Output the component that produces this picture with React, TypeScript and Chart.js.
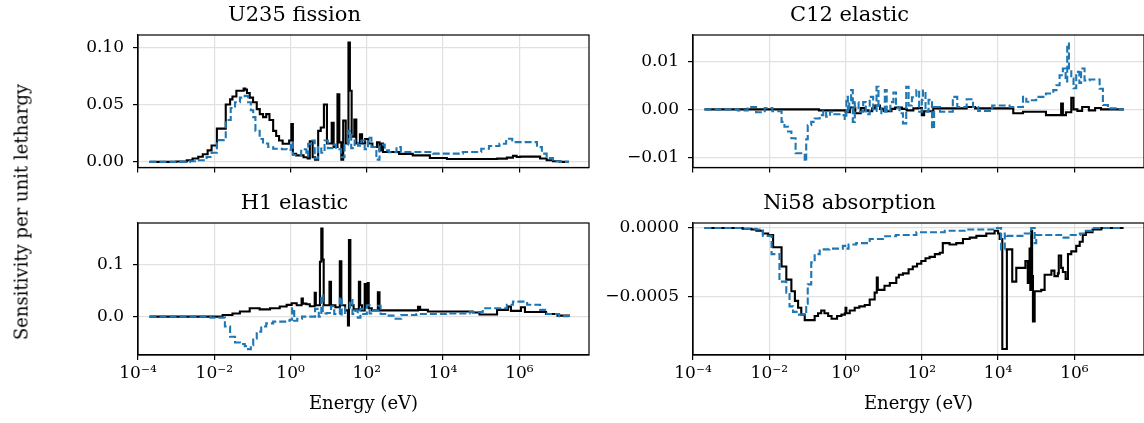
import React, { useEffect, useRef } from "react";
import { Chart, registerables } from "chart.js";

Chart.register(...registerables);

const FONT_FAMILY = "'DejaVu Serif', 'Liberation Serif', serif";

// ---------- shared axis data ----------
const xTickValues = [1e-4, 1e-2, 1, 1e2, 1e4, 1e6];
const xTickLabels = ["10\u207B\u2074", "10\u207B\u00B2", "10\u2070", "10\u00B2", "10\u2074", "10\u2076"];
const xMin = 1e-4;
const xMax = 6.7e7;

// ---------- U235 fission: [energy (eV), sensitivity per unit lethargy] ----------
const u235FissionBlack: [number, number][] = [
  [2e-4, 0], [1e-3, 0.0003], [1.9e-3, 0.0014], [2.7e-3, 0.003], [3.8e-3, 0.0045],
  [5e-3, 0.0066], [6.7e-3, 0.01], [8.5e-3, 0.0143], [1.17e-2, 0.029], [2e-2, 0.05],
  [2.6e-2, 0.0545], [3e-2, 0.057], [3.8e-2, 0.062], [5.9e-2, 0.064], [6.5e-2, 0.063],
  [7.2e-2, 0.06], [8.5e-2, 0.056], [0.104, 0.052], [0.13, 0.046], [0.156, 0.0416],
  [0.19, 0.039], [0.23, 0.0416], [0.28, 0.0365], [0.35, 0.027], [0.42, 0.0225],
  [0.5, 0.0186], [0.62, 0.0158], [0.8, 0.0158], [0.92, 0.0186], [1.05, 0.033],
  [1.15, 0.007], [1.4, 0.0057], [2.2, 0.004], [2.8, 0.003], [3.2, 0.018],
  [3.8, 0.004], [4.4, 0.002], [5.3, 0.027], [6.2, 0.03], [7.5, 0.05],
  [9.0, 0.016], [12.0, 0.034], [13.5, 0.013], [17.0, 0.059], [19.0, 0.017],
  [21.5, 0.002], [24.0, 0.036], [28.0, 0.016], [33.0, 0.104], [36.0, 0.062],
  [40.0, 0.022], [47.0, 0.037], [53.0, 0.016], [66.0, 0.024], [75.0, 0.016],
  [90.0, 0.02], [110, 0.016], [140, 0.013], [185, 0.017], [215, 0.01],
  [245, 0.016], [265, 0.0086], [700, 0.007], [1600, 0.0057], [4500, 0.0034],
  [1.26e4, 0.0025], [2.6e5, 0.0028], [4.7e5, 0.0037], [6.8e5, 0.0052], [8.5e5, 0.0043],
  [1.05e6, 0.0046], [3.5e6, 0.003], [5.2e6, 0.0014], [7.6e6, 0.0006], [1.17e7, 0],
  [2e7, 0],
];
const u235FissionBlue: [number, number][] = [
  [2e-4, 0], [2.3e-3, 0.0005], [3.4e-3, 0.0014], [6.3e-3, 0.0043], [8.5e-3, 0.008],
  [1.17e-2, 0.019], [2e-2, 0.0365], [2.7e-2, 0.047], [3.5e-2, 0.052], [4.7e-2, 0.056],
  [6.3e-2, 0.0575], [7.7e-2, 0.052], [9.1e-2, 0.045], [0.105, 0.039], [0.12, 0.027],
  [0.155, 0.02], [0.19, 0.016], [0.26, 0.013], [0.35, 0.0115], [0.6, 0.011],
  [0.8, 0.0105], [1.02, 0.017], [1.15, 0.006], [1.9, 0.011], [2.6, 0.005],
  [2.9, 0.0157], [3.5, 0.0186], [4.3, 0.003], [5.2, 0.013], [6.4, 0.008],
  [7.8, 0.0186], [9.5, 0.012], [12.5, 0.015], [15.5, 0.011], [21, 0.004],
  [26, 0.015], [32, 0.027], [39, 0.012], [48, 0.0186], [59, 0.014],
  [72, 0.0186], [88, 0.011], [107, 0.021], [132, 0.013], [178, 0.002],
  [215, 0.015], [295, 0.01], [380, 0.0085], [600, 0.0129], [780, 0.0086],
  [5400, 0.0072], [3.3e4, 0.0086], [1.0e5, 0.0115], [1.6e5, 0.0138], [3.0e5, 0.0158],
  [4.5e5, 0.0201], [6.5e5, 0.0172], [2.9e6, 0.0129], [3.9e6, 0.0072], [5.2e6, 0.0034],
  [7.6e6, 0.0006], [1.2e7, 0], [2e7, 0],
];
const u235YTicks = [0, 0.05, 0.1];
const u235YLabels = ["0.00", "0.05", "0.10"];

// ---------- C12 elastic ----------
const c12ElasticBlack: [number, number][] = [
  [2e-4, 0], [0.2, -0.0002], [1.0, -0.0006], [1.3, 0.0004], [1.8, -0.0008],
  [2.5, 0.0003], [3.2, -0.0002], [4.0, -0.0004], [5.0, 0.0002], [6.0, 0.0008],
  [8.0, 0.0001], [10, -0.0003], [12, -0.0004], [16, 0.0001], [20, 0.0004],
  [30, 0.0001], [40, -0.0002], [60, 0.0002], [80, 0.0003], [100, -0.0012],
  [115, -0.0004], [200, 0.0002], [1500, 0.0005], [2500, 0.0002], [2.5e4, -0.0008],
  [4.5e4, -0.0005], [1.8e5, -0.0012], [4.5e5, 0.0012], [5.0e5, -0.0012], [6e5, -0.0006],
  [8.3e5, 0.0024], [9.5e5, 0], [1.2e6, -0.0003], [1.6e6, 0.0005], [2.4e6, -0.0002],
  [3.5e6, 0.0003], [5e6, 0], [2e7, 0],
];
const c12ElasticBlue: [number, number][] = [
  [2e-4, 0], [1.5e-3, -0.0002], [2.7e-3, 0.0005], [4.5e-3, -0.0006], [7.6e-3, 0.0003],
  [1.2e-2, -0.0004], [2.1e-2, -0.0026], [2.5e-2, -0.0036], [3.1e-2, -0.0046], [3.8e-2, -0.006],
  [4.9e-2, -0.0091], [8.5e-2, -0.0108], [9.3e-2, -0.0062], [0.102, -0.0033], [0.126, -0.0026],
  [0.155, -0.0019], [0.21, -0.0012], [0.26, -0.0003], [0.31, -0.0015], [0.39, -0.0005],
  [0.51, -0.001], [0.83, -0.0012], [0.95, -0.002], [1.05, 0.0026], [1.15, -0.0005],
  [1.25, 0.0015], [1.4, 0.004], [1.55, -0.0026], [1.75, 0.0015], [2.2, -0.0005],
  [2.9, 0.0015], [3.4, -0.001], [4.3, 0.0026], [5.3, -0.0003], [6.5, 0.0047],
  [7.3, 0.0008], [8.7, -0.0008], [10.7, 0.004], [12, -0.0005], [15, 0.0015],
  [18, 0.0035], [21, 0.0005], [26, -0.0008], [32, -0.0029], [39, 0.0047],
  [45, 0.0008], [55, 0.0025], [72, 0.004], [85, -0.0005], [100, 0.002],
  [107, 0.0039], [125, -0.0005], [150, 0.002], [185, -0.004], [210, 0.0005],
  [300, -0.0005], [650, 0.0026], [850, 0.0005], [1500, 0.0021], [2200, 0.0005],
  [3000, -0.0003], [7000, 0.0008], [2e4, 0.0005], [4.5e4, 0.0026], [5.5e4, 0.0016],
  [6.8e4, 0.0019], [1.0e5, 0.0026], [1.8e5, 0.0033], [2.8e5, 0.004], [3.4e5, 0.005],
  [4.1e5, 0.0071], [5.0e5, 0.0085], [5.9e5, 0.0058], [6.5e5, 0.0137], [7.2e5, 0.0085],
  [8.3e5, 0.0064], [9.5e5, 0.0044], [1.12e6, 0.0078], [1.35e6, 0.0055], [1.5e6, 0.0085],
  [1.85e6, 0.006], [2.5e6, 0.0062], [4.6e6, 0.0043], [5.6e6, 0.0009], [7.6e6, 0.0002],
  [1.2e7, 0], [2e7, 0],
];
const c12YTicks = [-0.01, 0, 0.01];
const c12YLabels = ["\u22120.01", "0.00", "0.01"];

// ---------- H1 elastic ----------
const h1ElasticBlack: [number, number][] = [
  [2e-4, 0], [1.66e-2, 0.003], [3e-2, 0.006], [4.7e-2, 0.01], [8.5e-2, 0.016],
  [0.155, 0.014], [0.29, 0.016], [0.52, 0.0195], [0.79, 0.0226], [1.07, 0.0258],
  [1.45, 0.022], [1.95, 0.035], [2.1, 0.025], [2.6, 0.024], [3.2, 0.02],
  [4.3, 0.046], [4.6, 0.022], [5.9, 0.106], [6.4, 0.17], [6.9, 0.11],
  [7.4, 0.022], [10.5, 0.067], [11.5, 0.022], [15, 0.018], [19.6, 0.107],
  [21.5, 0.022], [27, 0.012], [32, -0.017], [34, 0.148], [37, 0.022],
  [45, 0.014], [62, 0.067], [67, 0.022], [75, 0.012], [88, 0.063],
  [95, 0.018], [105, 0.065], [112, 0.016], [135, 0.012], [195, 0.047],
  [215, 0.012], [2200, 0.019], [2500, 0.013], [4000, 0.01], [6e4, 0.008],
  [9e4, 0.004], [2.6e5, 0.013], [5e5, 0.0195], [6e5, 0.011], [1.1e6, 0.018],
  [1.4e6, 0.009], [5e6, 0.005], [1e7, 0.002], [2e7, 0],
];
const h1ElasticBlue: [number, number][] = [
  [2e-4, 0], [8e-3, -0.002], [1.38e-2, -0.002], [1.9e-2, -0.019], [2.6e-2, -0.039],
  [3.5e-2, -0.05], [4.7e-2, -0.053], [6.3e-2, -0.057], [7.7e-2, -0.063], [9.1e-2, -0.055],
  [0.105, -0.042], [0.13, -0.029], [0.17, -0.019], [0.23, -0.013], [0.35, -0.0097],
  [0.8, -0.008], [0.95, -0.006], [1.1, 0.016], [1.25, -0.008], [1.5, -0.004],
  [2.0, 0], [3.5, 0], [4.4, 0.015], [5.5, 0], [6.4, 0.041],
  [7.0, 0.006], [9.0, 0.007], [11.5, 0.02], [14, 0.005], [19.6, 0.037],
  [22, 0.004], [27, 0.017], [36, 0.032], [42, 0.005], [50, 0.012],
  [58, -0.002], [68, 0.015], [80, 0.005], [100, 0.022], [118, 0.006],
  [145, 0.012], [200, 0.021], [230, 0.005], [330, 0.002], [500, -0.004],
  [800, 0.003], [2000, 0.005], [1.2e4, 0.006], [5e4, 0.009], [1.1e5, 0.016],
  [4.7e5, 0.023], [6.8e5, 0.029], [1.6e6, 0.023], [3.5e6, 0.013], [5.2e6, 0.005],
  [1.1e7, 0.001], [2e7, 0],
];
const h1YTicks = [0, 0.1];
const h1YLabels = ["0.0", "0.1"];

// ---------- Ni58 absorption ----------
const ni58AbsorptionBlack: [number, number][] = [
  [2e-4, 0], [2.0e-3, -0.000005], [3.4e-3, -0.00001], [4.6e-3, -0.00002], [6.8e-3, -0.00004],
  [9.3e-3, -0.00005], [1.26e-2, -0.00014], [2.1e-2, -0.00028], [2.8e-2, -0.000375], [3.8e-2, -0.00046],
  [4.7e-2, -0.00053], [5.7e-2, -0.00058], [6.9e-2, -0.00063], [8.5e-2, -0.00067], [0.155, -0.00064],
  [0.19, -0.00062], [0.23, -0.0006], [0.28, -0.00062], [0.35, -0.00064], [0.43, -0.00066],
  [0.6, -0.00064], [0.78, -0.00063], [0.96, -0.00062], [1.0, -0.00058], [1.05, -0.00062],
  [1.29, -0.0006], [1.74, -0.00058], [2.3, -0.00057], [3.2, -0.00056], [4.3, -0.00052],
  [5.8, -0.00047], [6.6, -0.00036], [7.0, -0.00045], [10.5, -0.00042], [14.5, -0.0004],
  [21.4, -0.00036], [25, -0.00034], [32, -0.00033], [45, -0.0003], [58, -0.00028],
  [75, -0.00026], [97, -0.00024], [125, -0.00022], [160, -0.00021], [220, -0.00019],
  [295, -0.00018], [355, -0.00011], [535, -0.00012], [800, -0.00011], [1200, -0.00008],
  [1800, -0.00007], [2700, -0.000057], [4900, -0.00004], [8100, -0.00002], [1.0e4, -0.00004],
  [1.1e4, -0.00008], [1.29e4, -0.00088], [1.7e4, -0.000155], [2.35e4, -0.00039], [3.0e4, -0.00029],
  [5.2e4, -0.00024], [6.0e4, -0.0004], [6.7e4, -0.00015], [7.0e4, -0.00045], [7.4e4, -0.00002],
  [7.8e4, -0.00035], [8.2e4, -0.00068], [9.1e4, -0.00046], [1.35e5, -0.00045], [1.66e5, -0.00034],
  [2.5e5, -0.00031], [3.0e5, -0.00035], [3.7e5, -0.00033], [3.9e5, -0.0002], [4.5e5, -0.00029],
  [5.0e5, -0.00032], [5.9e5, -0.00037], [6.8e5, -0.00019], [8.3e5, -0.00017], [1.12e6, -0.00013],
  [1.38e6, -0.0001], [1.66e6, -0.00005], [2.0e6, -0.00003], [3.0e6, -0.00001], [5.1e6, 0],
  [2e7, 0],
];
const ni58AbsorptionBlue: [number, number][] = [
  [2e-4, 0], [2e-3, -0.000005], [4.6e-3, -0.00001], [5.6e-3, -0.00002], [6.8e-3, -0.000057],
  [1.15e-2, -0.00019], [1.85e-2, -0.00039], [2.8e-2, -0.00047], [3.4e-2, -0.00057], [4.2e-2, -0.00061],
  [5.2e-2, -0.00063], [8.5e-2, -0.00061], [9.3e-2, -0.00055], [0.102, -0.00041], [0.126, -0.00025],
  [0.155, -0.00019], [0.21, -0.000155], [0.38, -0.00015], [0.85, -0.00013], [1.05, -0.00015],
  [1.2, -0.00012], [1.9, -0.00011], [4.3, -0.00008], [9.5, -0.00006], [21, -0.00005],
  [72, -0.00003], [400, -0.00002], [1500, -0.00001], [8100, 0], [1.2e4, -0.000155],
  [1.5e4, -0.00004], [1.7e4, -0.000057], [5e4, -0.00004], [7.4e4, 0], [9.1e4, -0.00011],
  [1.0e5, -0.00005], [4.5e5, -0.00007], [8e5, -0.00005], [1.4e6, -0.00004], [2.0e6, -0.00002],
  [3e6, 0], [2e7, 0],
];
const ni58YTicks = [-0.0005, 0];
const ni58YLabels = ["\u22120.0005", "0.0000"];

// ---------- panel layout ----------
type PanelSpec = {
  title: string;
  black: [number, number][];
  blue: [number, number][];
  yMin: number;
  yMax: number;
  yTicks: number[];
  yLabels: string[];
  showX: boolean;
  left: number;
  top: number;
  width: number;
  height: number;
  yAxisWidth: number;
  xAxisHeight: number;
  padRight: number;
};

const panels: PanelSpec[] = [
  {
    title: "U235 fission", black: u235FissionBlack, blue: u235FissionBlue,
    yMin: -0.0049, yMax: 0.1106, yTicks: u235YTicks, yLabels: u235YLabels, showX: false,
    left: 0, top: 3, width: 600, height: 182, yAxisWidth: 138, xAxisHeight: 16, padRight: 11,
  },
  {
    title: "C12 elastic", black: c12ElasticBlack, blue: c12ElasticBlue,
    yMin: -0.01207, yMax: 0.01545, yTicks: c12YTicks, yLabels: c12YLabels, showX: false,
    left: 555, top: 3, width: 591, height: 182, yAxisWidth: 138, xAxisHeight: 16, padRight: 2,
  },
  {
    title: "H1 elastic", black: h1ElasticBlack, blue: h1ElasticBlue,
    yMin: -0.0741, yMax: 0.1807, yTicks: h1YTicks, yLabels: h1YLabels, showX: true,
    left: 0, top: 191, width: 600, height: 232, yAxisWidth: 138, xAxisHeight: 68, padRight: 11,
  },
  {
    title: "Ni58 absorption", black: ni58AbsorptionBlack, blue: ni58AbsorptionBlue,
    yMin: -0.000924, yMax: 0.0000368, yTicks: ni58YTicks, yLabels: ni58YLabels, showX: true,
    left: 555, top: 191, width: 591, height: 232, yAxisWidth: 138, xAxisHeight: 68, padRight: 2,
  },
];

const framePlugin = {
  id: "frame",
  afterDatasetsDraw(chart: any) {
    const { ctx, chartArea } = chart;
    ctx.save();
    ctx.strokeStyle = "#000";
    ctx.lineWidth = 1.2;
    ctx.strokeRect(
      chartArea.left,
      chartArea.top,
      chartArea.right - chartArea.left,
      chartArea.bottom - chartArea.top
    );
    ctx.restore();
  },
};

const GRID_COLOR = "#e1e1e1";

function Panel({ spec }: { spec: PanelSpec }) {
  const ref = useRef<HTMLCanvasElement | null>(null);
  useEffect(() => {
    const canvas = ref.current;
    if (!canvas) return;
    const chart = new Chart(canvas, {
      type: "line",
      data: {
        datasets: [
          {
            label: "blue",
            data: spec.blue.map(([x, y]) => ({ x, y })),
            borderColor: "#1f77b4",
            borderWidth: 2.1,
            borderDash: [7, 3],
            stepped: "before",
            pointRadius: 0,
            fill: false,
          },
          {
            label: "black",
            data: spec.black.map(([x, y]) => ({ x, y })),
            borderColor: "#000000",
            borderWidth: 2.1,
            stepped: "before",
            pointRadius: 0,
            fill: false,
          },
        ],
      },
      options: {
        animation: false,
        responsive: false,
        devicePixelRatio: 1,
        layout: { padding: { left: 0, right: spec.padRight, top: 0, bottom: 0 } },
        plugins: {
          legend: { display: false },
          tooltip: { enabled: false },
          title: {
            display: true,
            text: spec.title,
            color: "#000",
            font: { family: FONT_FAMILY, size: 21, weight: "normal", lineHeight: 1.2 },
            padding: { top: 0, bottom: 6.8 },
          },
        },
        scales: {
          x: {
            type: "logarithmic",
            position: "bottom",
            min: xMin,
            max: xMax,
            afterBuildTicks: (scale: any) => {
              scale.ticks = xTickValues.map((v) => ({ value: v }));
            },
            afterFit: (scale: any) => {
              scale.height = spec.xAxisHeight;
            },
            ticks: {
              display: spec.showX,
              autoSkip: false,
              maxRotation: 0,
              padding: 3,
              color: "#000",
              font: { family: FONT_FAMILY, size: 17 },
              callback: (_v: any, i: number) => xTickLabels[i],
            },
            grid: {
              color: GRID_COLOR,
              lineWidth: 1.2,
              tickColor: "#000",
              tickLength: 5,
              drawTicks: true,
            },
            border: { display: true, color: "#000", width: 1.2 },
            title: {
              display: spec.showX,
              text: "Energy (eV)",
              color: "#000",
              font: { family: FONT_FAMILY, size: 18, lineHeight: 1.2 },
              padding: { top: 0, bottom: 8 },
            },
          },
          y: {
            type: "linear",
            min: spec.yMin,
            max: spec.yMax,
            afterBuildTicks: (scale: any) => {
              scale.ticks = spec.yTicks.map((v) => ({ value: v }));
            },
            afterFit: (scale: any) => {
              scale.width = spec.yAxisWidth;
            },
            ticks: {
              autoSkip: false,
              padding: 9,
              color: "#000",
              font: { family: FONT_FAMILY, size: 17, lineHeight: 1 },
              callback: (_v: any, i: number) => spec.yLabels[i],
            },
            grid: {
              color: GRID_COLOR,
              lineWidth: 1.2,
              tickColor: "#000",
              tickLength: 5,
              drawTicks: true,
            },
            border: { display: true, color: "#000", width: 1.2 },
          },
        },
      },
      plugins: [framePlugin],
    } as any);
    return () => chart.destroy();
  }, [spec]);

  return (
    <canvas
      ref={ref}
      width={spec.width}
      height={spec.height}
      style={{
        position: "absolute",
        left: spec.left,
        top: spec.top,
        width: spec.width,
        height: spec.height,
      }}
    />
  );
}

export default function App() {
  return (
    <div
      style={{
        position: "fixed",
        left: 0,
        top: 0,
        width: 1144,
        height: 423,
        overflow: "hidden",
        background: "#ffffff",
      }}
    >
      {panels.map((p) => (
        <Panel key={p.title} spec={p} />
      ))}
      <div
        style={{
          position: "absolute",
          left: 21,
          top: 212,
          transform: "translate(-50%, -50%) rotate(-90deg)",
          whiteSpace: "nowrap",
          fontFamily: FONT_FAMILY,
          fontSize: 18,
          color: "#000",
        }}
      >
        Sensitivity per unit lethargy
      </div>
    </div>
  );
}
